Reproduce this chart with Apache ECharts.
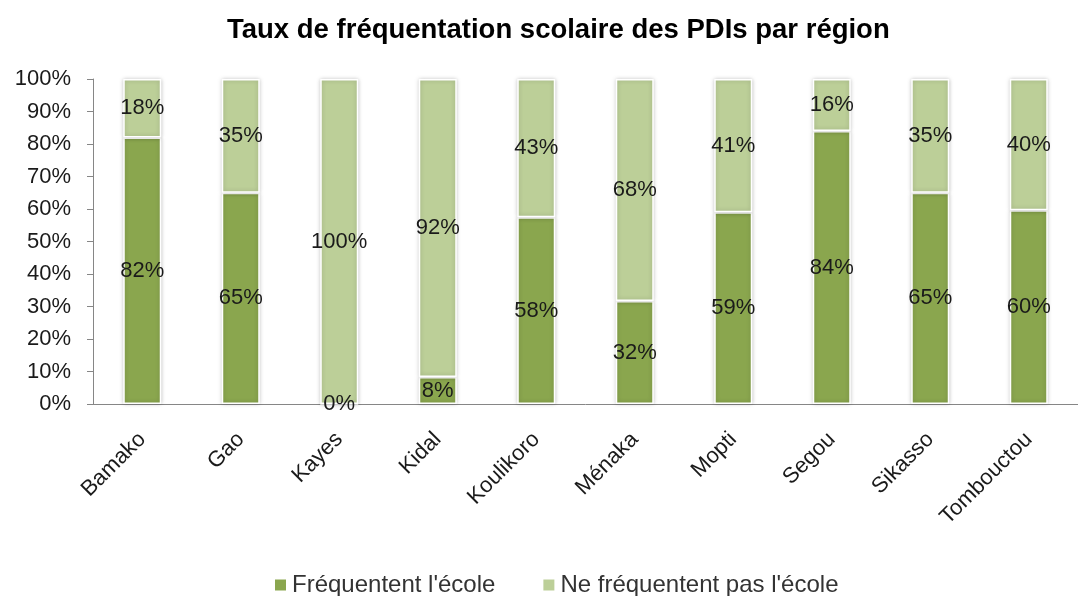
<!DOCTYPE html>
<html>
<head>
<meta charset="utf-8">
<script src="https://cdn.jsdelivr.net/npm/echarts@6/dist/echarts.min.js"></script>
<style>
  html, body { margin: 0; padding: 0; background: #fff; }
  #chart { width: 1078px; height: 596px; }
</style>
</head>
<body>
<div id="chart"></div>
<script>
// données
const regions = ['Bamako', 'Gao', 'Kayes', 'Kidal', 'Koulikoro', 'Ménaka', 'Mopti', 'Segou', 'Sikasso', 'Tombouctou'];
const frequentent = [82, 65, 0, 8.3, 57.5, 31.7, 59, 84, 65, 59.6];
const neFrequententPas = [18, 35, 100, 91.7, 42.5, 68.3, 41, 16, 35, 40.4];
const yTicks = [0, 10, 20, 30, 40, 50, 60, 70, 80, 90, 100];

const FONT = 'Liberation Sans';

function serie(name, data, color) {
    return {
        name: name,
        type: 'bar',
        stack: 'total',
        barWidth: 38,
        data: data,
        itemStyle: {
            color: color,
            borderColor: '#fff',
            borderWidth: 1.5,
            shadowColor: 'rgba(0,0,0,0.22)',
            shadowBlur: 4
        },
        label: {
            show: true,
            position: 'inside',
            fontFamily: FONT,
            fontSize: 22,
            color: '#1a1a1a',
            formatter: p => Math.round(p.value) + '%'
        }
    };
}

const chart = echarts.init(document.getElementById('chart'));
chart.setOption({
    animation: false,
    title: {
        text: 'Taux de fréquentation scolaire des PDIs par région',
        left: 222,
        top: 11,
        textStyle: { fontFamily: FONT, fontWeight: 'bold', fontSize: 27.5, color: '#000' }
    },
    legend: {
        top: 568,
        left: 268,
        itemWidth: 13,
        itemHeight: 13,
        itemGap: 46,
        icon: 'rect',
        textStyle: { fontFamily: FONT, fontSize: 24, color: '#333' },
        data: ['Fréquentent l\'école', 'Ne fréquentent pas l\'école']
    },
    grid: { left: 93, top: 79, width: 997, height: 325 },
    xAxis: {
        type: 'category',
        data: regions,
        axisLine: { lineStyle: { color: '#868686' } },
        axisTick: { length: 6, lineStyle: { color: '#868686' } },
        axisLabel: {
            rotate: 45,
            interval: 0,
            margin: 32,
            fontFamily: FONT,
            fontSize: 22,
            color: '#1a1a1a'
        }
    },
    yAxis: {
        type: 'value',
        min: yTicks[0],
        max: yTicks[yTicks.length - 1],
        interval: 10,
        splitLine: { show: false },
        axisLine: { show: true, lineStyle: { color: '#868686' } },
        axisTick: { show: true, length: 6, lineStyle: { color: '#868686' } },
        axisLabel: {
            margin: 22,
            fontFamily: FONT,
            fontSize: 22,
            color: '#1a1a1a',
            formatter: v => v + '%'
        }
    },
    series: [
        serie('Fréquentent l\'école', frequentent, '#8aa64e'),
        serie('Ne fréquentent pas l\'école', neFrequententPas, '#bccf98')
    ]
});
</script>
</body>
</html>
